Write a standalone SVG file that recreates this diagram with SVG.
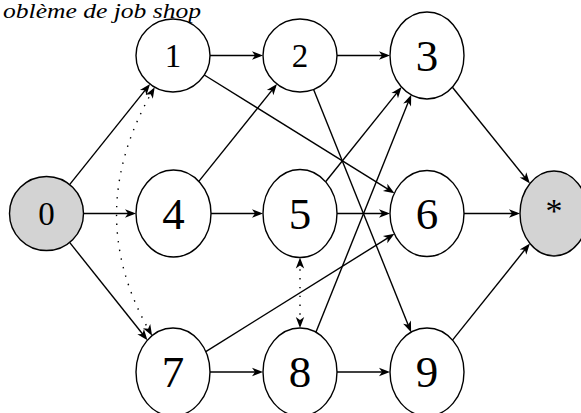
<svg xmlns="http://www.w3.org/2000/svg" width="581" height="413" viewBox="0 0 581 413">
<style>
.nd{fill:#fff;stroke:#000;stroke-width:1.4}
.gr{fill:#d3d3d3}
.lb{font-family:"Liberation Serif",serif;fill:#000;text-anchor:middle}
.sm{font-size:33px}
.lg{font-size:45px}
.ed{fill:none;stroke:#000;stroke-width:1.4;marker-end:url(#arr)}
.dt{fill:none;stroke:#000;stroke-width:1.4;stroke-dasharray:1.4 7.4;marker-start:url(#arr);marker-end:url(#arr)}
.tt{font-family:"Liberation Serif",serif;font-style:italic;font-size:20px;fill:#000}
</style>
<defs>
<marker id="arr" viewBox="-12 -6 16 12" refX="-3" refY="0" markerWidth="16" markerHeight="12" markerUnits="userSpaceOnUse" orient="auto-start-reverse">
<path d="M0,0 L-11,-4.2 L-8,0 L-11,4.2 Z" fill="#000" stroke="none"/>
</marker>
</defs>
<text class="tt" x="3" y="18" textLength="198" lengthAdjust="spacingAndGlyphs">oblème de job shop</text>
<g id="connectors">
<line class="ed" x1="69.6" y1="184.6" x2="148.2" y2="86.4"/>
<line class="ed" x1="83.5" y1="213.5" x2="133" y2="213.5"/>
<line class="ed" x1="69.6" y1="242.4" x2="145.6" y2="337.8"/>
<line class="ed" x1="210" y1="55.5" x2="260" y2="55.5"/>
<line class="ed" x1="337" y1="55.5" x2="387" y2="55.5"/>
<line class="ed" x1="204.3" y1="75" x2="391.9" y2="191.6"/>
<line class="ed" x1="198.4" y1="181.9" x2="275.1" y2="86.4"/>
<line class="ed" x1="210.5" y1="213.5" x2="260" y2="213.5"/>
<line class="ed" x1="325.6" y1="181.7" x2="399.7" y2="89.4"/>
<line class="ed" x1="337" y1="213.5" x2="387" y2="213.5"/>
<line class="ed" x1="313.6" y1="89.4" x2="410" y2="329.5"/>
<line class="ed" x1="205.8" y1="351.6" x2="391.9" y2="235.4"/>
<line class="ed" x1="210" y1="372" x2="260" y2="372"/>
<line class="ed" x1="315.9" y1="332.3" x2="410.1" y2="97.6"/>
<line class="ed" x1="337" y1="372" x2="387" y2="372"/>
<line class="ed" x1="452.4" y1="87.2" x2="528" y2="181.2"/>
<line class="ed" x1="464" y1="213.5" x2="517" y2="213.5"/>
<line class="ed" x1="452.5" y1="340.1" x2="528" y2="245.8"/>
<path class="dt" d="M150.6,333.1 C103.5,251.4 106.1,171.5 153.2,89.8"/>
<line class="dt" x1="300" y1="260.5" x2="300" y2="325"/>
</g>
<g id="n0"><ellipse class="nd gr" cx="46.5" cy="213.5" rx="37" ry="37"/><text class="lb sm" x="46.5" y="224.5">0</text></g>
<g id="n1"><ellipse class="nd" cx="173" cy="55.5" rx="37" ry="36.5"/><text class="lb sm" x="173" y="66.5">1</text></g>
<g id="n2"><ellipse class="nd" cx="300" cy="55.5" rx="37" ry="36.5"/><text class="lb sm" x="300" y="66.5">2</text></g>
<g id="n3"><ellipse class="nd" cx="427" cy="55.5" rx="37" ry="43.5"/><text class="lb lg" x="427" y="70.7">3</text></g>
<g id="n4"><ellipse class="nd" cx="173.5" cy="213.5" rx="37.5" ry="43.5"/><text class="lb lg" x="173.5" y="228.7">4</text></g>
<g id="n5"><ellipse class="nd" cx="300" cy="213.5" rx="37" ry="44"/><text class="lb lg" x="300" y="228.7">5</text></g>
<g id="n6"><ellipse class="nd" cx="427" cy="213.5" rx="37" ry="43"/><text class="lb lg" x="427" y="228.7">6</text></g>
<g id="nstar"><ellipse class="nd gr" cx="554" cy="213.5" rx="34" ry="42.5"/><text class="lb" style="font-size:34px" x="554" y="222">*</text></g>
<g id="n7"><ellipse class="nd" cx="173" cy="372" rx="37" ry="44"/><text class="lb lg" x="173" y="387.2">7</text></g>
<g id="n8"><ellipse class="nd" cx="300" cy="372" rx="37" ry="44"/><text class="lb lg" x="300" y="387.2">8</text></g>
<g id="n9"><ellipse class="nd" cx="427" cy="372" rx="37" ry="44"/><text class="lb lg" x="427" y="387.2">9</text></g>
</svg>
